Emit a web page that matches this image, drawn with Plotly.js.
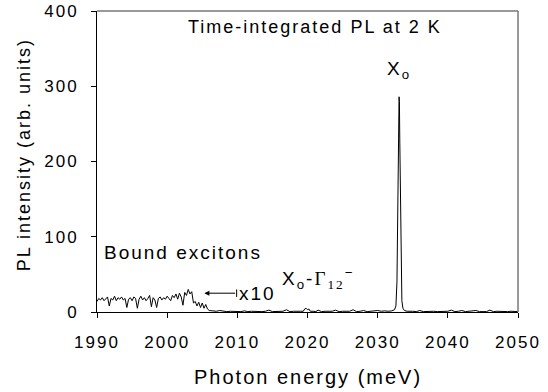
<!DOCTYPE html>
<html><head><meta charset="utf-8">
<script src="https://cdn.plot.ly/plotly-3.0.1.min.js"></script>
<style>html,body{margin:0;padding:0;background:#fff}#chart{width:548px;height:392px}
#chart text{letter-spacing:2px}</style>
</head><body><div id="chart"></div>
<script>
// Bound-exciton region (x10), 1990-2006 meV
const energyBound = [1990.00,1990.25,1990.50,1990.75,1991.00,1991.25,1991.50,1991.75,1992.00,1992.25,1992.50,1992.75,1993.00,1993.25,1993.50,1993.75,1994.00,1994.25,1994.50,1994.75,1995.00,1995.25,1995.50,1995.75,1996.00,1996.25,1996.50,1996.75,1997.00,1997.25,1997.50,1997.75,1998.00,1998.25,1998.50,1998.75,1999.00,1999.25,1999.50,1999.75,2000.00,2000.25,2000.50,2000.75,2001.00,2001.25,2001.50,2001.75,2002.00,2002.25,2002.50,2002.75,2003.00,2003.25,2003.50,2003.75,2004.00,2004.25,2004.50,2004.75,2005.00,2005.25,2005.50,2005.75,2006.00];
const intensityBound = [14,18,16,19,15,17,20,8,18,16,21,15,19,17,20,16,18,6,17,19,15,20,18,5,17,21,16,19,15,18,22,7,19,16,6,18,20,16,19,17,21,18,15,22,19,24,17,25,20,9,26,22,30,24,27,12,14,8,13,6,12,5,10,4,2];
// Remaining spectrum, 2006.5-2050 meV
const energyMain = [2006.5,2007,2007.5,2008,2008.5,2009,2009.5,2010,2010.5,2011,2011.5,2012,2012.5,2013,2013.5,2014,2014.5,2015,2015.5,2016,2016.5,2017,2017.5,2018,2018.5,2019,2019.4,2019.6,2019.8,2020.0,2020.2,2020.4,2020.8,2021.2,2021.5,2022,2022.5,2023,2023.5,2024,2024.5,2025,2025.5,2026,2026.5,2027,2027.5,2028,2028.5,2029,2029.5,2030,2030.5,2031,2031.5,2032,2032.4,2032.6,2032.75,2032.85,2032.95,2033.05,2033.1,2033.15,2033.25,2033.35,2033.45,2033.6,2033.8,2034.2,2034.6,2035,2035.5,2036,2036.5,2037,2037.5,2038,2038.5,2039,2039.5,2040,2040.5,2041,2041.5,2042,2042.5,2043,2043.5,2044,2044.5,2045,2045.5,2046,2046.5,2047,2047.5,2048,2048.5,2049,2049.5,2050];
const intensityMain = [1.5,1,2,1,0.5,1,0.5,1,0.5,1.5,0.5,1,0.5,1,0.5,1,2.5,0.5,1,0.5,1,3,0.5,1,0.5,1,1,4,5,3,4,1,1,0.5,2.5,0.5,1,0.5,1,2.5,0.5,1,0.5,1,3,0.5,1,2,0.5,1,0.5,2,1,1.5,1,1.5,3,8,40,120,230,286,280,230,130,50,15,5,2,1,0.5,1,0.5,2,0.5,1,0.5,1,0.5,1,0.5,1,2.5,0.5,1,2,0.5,1,0.5,2,0.5,1,0.5,2.5,0.5,1,0.5,1,0.5,1,0.5,0.5];

const energy = energyBound.concat(energyMain);
const intensity = intensityBound.concat(intensityMain);

const xTicks = [1990,2000,2010,2020,2030,2040,2050];
const yTicks = [0,100,200,300,400];

const F = 'Arial, "Liberation Sans", sans-serif';
const trace = {x: energy, y: intensity, type:'scatter', mode:'lines',
  line:{color:'#000', width:1}, hoverinfo:'skip'};

const layout = {
  width:548, height:392, margin:{l:97, r:30, t:11, b:80},
  paper_bgcolor:'#fff', plot_bgcolor:'#fff', showlegend:false,
  font:{family:F, color:'#000', size:17},
  xaxis:{range:[1990,2050], tickvals:xTicks, ticks:'outside', ticklen:5, tickcolor:'#000',
    ticklabelstandoff:10,
    showgrid:false, zeroline:false, showline:true, linecolor:'#000', linewidth:1, mirror:false,
    tickfont:{size:17, family:F}},
  yaxis:{range:[0,400], tickvals:yTicks, ticks:'outside', ticklen:5, tickcolor:'#000',
    ticklabelstandoff:9,
    showgrid:false, zeroline:false, showline:true, linecolor:'#000', linewidth:1,
    tickfont:{size:17, family:F}},
  shapes:[
    {type:'line', xref:'paper', yref:'paper', x0:0, x1:1, y0:1, y1:1, line:{color:'#777', width:1.5}},
    {type:'line', xref:'paper', yref:'paper', x0:1, x1:1, y0:0, y1:1, line:{color:'#777', width:1.5}},
    {type:'line', xref:'x', yref:'y', x0:2009.9, x1:2009.9, y0:20, y1:30, line:{color:'#000', width:1}}
  ],
  annotations:[
    // axis titles
    {xref:'paper', yref:'paper', x:0.5, y:-0.216, yanchor:'middle', text:'Photon energy (meV)', showarrow:false, font:{size:20, family:F}},
    {xref:'paper', yref:'paper', x:-0.174, y:0.523, xanchor:'center', yanchor:'middle', textangle:-90, text:'PL intensity (arb. units)', showarrow:false, font:{size:18, family:F}},
    // in-plot labels
    {xref:'x', yref:'y', x:2021, y:379, text:'Time-integrated PL at 2 K', showarrow:false, font:{size:18, family:F}},
    {xref:'x', yref:'y', x:2033.1, y:322, text:'X<sub>o</sub>', showarrow:false, font:{size:19, family:F}},
    {xref:'x', yref:'y', x:2002.3, y:79, text:'Bound excitons', showarrow:false, font:{size:19, family:F}},
    {xref:'x', yref:'y', x:2012.9, y:25, text:'x10', showarrow:false, font:{size:19, family:F}},
    {xref:'x', yref:'y', x:2005.3, y:25, ax:2009.9, ay:25, axref:'x', ayref:'y', text:'', showarrow:true,
      arrowhead:2, arrowsize:1, arrowwidth:1, arrowcolor:'#000'},
    {xref:'x', yref:'y', x:2021.6, y:44, showarrow:false, font:{size:19, family:F},
      text:'X<sub>o</sub>-<span style="font-family:\'Liberation Serif\',\'Times New Roman\',serif">Γ<sub>12</sub></span><sup>−</sup>'}
  ]
};
Plotly.newPlot('chart', [trace], layout, {displayModeBar:false, staticPlot:true});
</script></body></html>
